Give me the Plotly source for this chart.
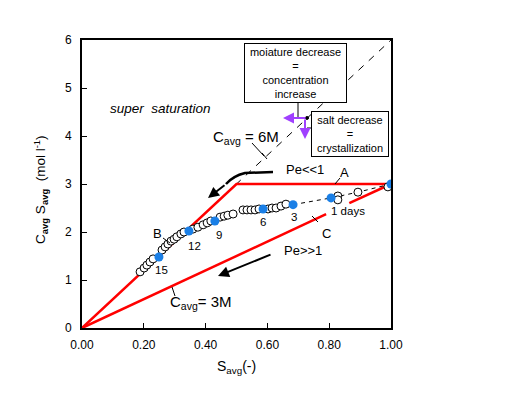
import plotly.graph_objects as go

# ---- data ----
S_open = [0.188, 0.201, 0.210, 0.220, 0.230, 0.259, 0.269, 0.278, 0.288, 0.298,
          0.307, 0.320, 0.330, 0.359, 0.375, 0.392, 0.405, 0.417, 0.447, 0.460,
          0.472, 0.489, 0.521, 0.534, 0.547, 0.560, 0.573, 0.602, 0.615, 0.628,
          0.644, 0.660, 0.828, 0.828, 0.893, 0.990]
C_open = [1.17, 1.25, 1.31, 1.375, 1.44, 1.625, 1.69, 1.75, 1.81, 1.85,
          1.90, 1.96, 2.00, 2.06, 2.10, 2.15, 2.19, 2.23, 2.31, 2.33,
          2.35, 2.375, 2.46, 2.46, 2.46, 2.46, 2.48, 2.48, 2.50, 2.50,
          2.54, 2.58, 2.75, 2.67, 2.83, 2.94]

S_blue = [1.0, 0.806, 0.683, 0.586, 0.430, 0.346, 0.249]
C_blue = [3.0, 2.71, 2.57, 2.48, 2.23, 2.02, 1.48]
day_labels = ["", "1 days", "3", "6", "9", "12", "15"]

S_trend = [1.0, 0.893, 0.806, 0.683, 0.586]
C_trend = [3.0, 2.83, 2.71, 2.57, 2.48]

S_6M = [0, 1.0]
C_6M = [0, 6.0]
S_A = [0, 0.5, 1.0]
C_A = [0, 3.0, 3.0]
S_C = [0, 0.79, None, 0.865, 1.0]
C_C = [0, 2.37, None, 2.60, 3.0]

x_ticks = [0, 0.2, 0.4, 0.6, 0.8, 1.0]
x_ticklabels = ["0.00", "0.20", "0.40", "0.60", "0.80", "1.00"]
y_ticks = [0, 1, 2, 3, 4, 5, 6]

FONT = "Liberation Sans, Arial, sans-serif"

def P(px, py):
    return (px - 82) / 309, (328 - py) / 48

fig = go.Figure()
fig.add_trace(go.Scatter(x=S_6M, y=C_6M, mode="lines",
                         line=dict(color="black", width=1, dash="7px,7px")))
fig.add_trace(go.Scatter(x=S_A, y=C_A, mode="lines",
                         line=dict(color="#ff0000", width=2.5)))
fig.add_trace(go.Scatter(x=S_C, y=C_C, mode="lines",
                         line=dict(color="#ff0000", width=2.5)))
fig.add_trace(go.Scatter(x=S_trend, y=C_trend, mode="lines",
                         line=dict(color="black", width=1, dash="4px,4px")))
fig.add_trace(go.Scatter(x=S_open, y=C_open, mode="markers",
                         marker=dict(size=8, color="white", line=dict(color="black", width=1))))
fig.add_trace(go.Scatter(x=S_blue, y=C_blue, mode="markers",
                         marker=dict(size=9, color="#1a7fe6", line=dict(width=0))))

ann = []
def text(px, py, t, size=12, **kw):
    x, y = P(px, py)
    d = dict(x=x, y=y, xref="x", yref="y", text=t, showarrow=False,
             font=dict(family=FONT, size=size, color="black"))
    d.update(kw)
    ann.append(d)

# day labels
lab_pos = [None, (348, 211), (294, 217), (263, 222), (219, 235), (194, 246), (161, 270)]
for lbl, pos in zip(day_labels, lab_pos):
    if pos:
        text(pos[0], pos[1], lbl, size=11.5)

text(160, 108, "<i>super  saturation</i>", size=13.5)
text(246, 137, "C<sub>avg</sub> = 6M", size=15)
text(201, 302, "C<sub>avg</sub>= 3M", size=15)
text(305, 169, "Pe<<1", size=13)
text(303, 250, "Pe>>1", size=13)
text(344, 172, "A", size=13)
text(157, 233, "B", size=13)
text(326, 233, "C", size=13)
text(427, 175, "start", size=14)
text(427, 193, "3M", size=14)

# boxes
x1, y1 = P(295.5, 73)
ann.append(dict(x=x1, y=y1, xref="x", yref="y", showarrow=False,
                text="moiature decrease<br>=<br>concentration<br>increase",
                font=dict(family=FONT, size=11, color="black"),
                bordercolor="black", borderwidth=1, bgcolor="white",
                width=99, height=56, borderpad=1))
x2, y2 = P(349.5, 133.5)
ann.append(dict(x=x2, y=y2, xref="x", yref="y", showarrow=False,
                text="salt decrease<br>=<br>crystallization",
                font=dict(family=FONT, size=11, color="black"),
                bordercolor="black", borderwidth=1, bgcolor="white",
                width=74, height=42, borderpad=1))

def arrow(p_from, p_to, color="black", width=1.5, head=2, size=1.0):
    xa, ya = P(*p_from)
    xh, yh = P(*p_to)
    ann.append(dict(x=xh, y=yh, ax=xa, ay=ya, xref="x", yref="y", axref="x", ayref="y",
                    text="", showarrow=True, arrowhead=head, arrowwidth=width,
                    arrowcolor=color, arrowsize=size))

arrow((272, 254), (218, 276), width=2, head=2, size=1.1)
arrow((226, 184), (208, 198), width=2, head=2, size=1.1)
arrow((410, 184), (394, 184), width=1, head=1, size=1.2)
arrow((307, 118), (283, 118), color="#a040ff", width=2, head=2, size=1.1)
arrow((305, 118), (305, 139), color="#a040ff", width=2, head=2, size=1.1)

shapes = []
def line(p, q, width=1, color="black"):
    a = P(*p); b = P(*q)
    shapes.append(dict(type="line", xref="x", yref="y", x0=a[0], y0=a[1], x1=b[0], y1=b[1],
                       line=dict(color=color, width=width)))

# curved arrow Pe<<1
a = P(273, 172); c = P(245, 173); b = P(226, 184)
shapes.append(dict(type="path", xref="x", yref="y",
                   path=f"M {a[0]},{a[1]} L {c[0]},{c[1]} Q {P(233,176)[0]},{P(233,176)[1]} {b[0]},{b[1]}",
                   line=dict(color="black", width=2.5)))
# leader lines
line((252, 143), (264, 156))
line((262, 153), (267, 159))
line((172, 287), (175, 296))
line((163, 238), (170, 243))
line((340, 178), (335, 184))
line((318, 222), (312, 216))
line((298, 103), (298, 117))
line((307, 128), (311, 128))
x_, y_ = P(307, 118)
shapes.append(dict(type="circle", xref="x", yref="y",
                   x0=x_ - 0.005, x1=x_ + 0.005, y0=y_ - 0.03, y1=y_ + 0.03,
                   fillcolor="black", line=dict(color="black", width=1)))

# y axis title
ann.append(dict(x=-0.172, y=0.479, xref="paper", yref="paper", showarrow=False, textangle=-90,
                text="C<sub><b>avg</b></sub> S<sub><b>avg</b></sub>  (mol l<sup>-1</sup>)",
                font=dict(family=FONT, size=13.5, color="black")))
ann.append(dict(x=0.5, y=-0.172, xref="paper", yref="paper", showarrow=False,
                text="S<sub>avg</sub>(-)", font=dict(family=FONT, size=14, color="black")))

# page body has an 8px default margin, so shift the figure accordingly
fig.update_layout(
    width=511, height=390,
    margin=dict(l=74, r=128, t=32, b=70),
    plot_bgcolor="white", paper_bgcolor="white",
    showlegend=False,
    annotations=ann, shapes=shapes,
    font=dict(family=FONT, size=11, color="black"),
)
fig.update_xaxes(range=[0, 1.0], tickvals=x_ticks, ticktext=x_ticklabels,
                 showgrid=False, zeroline=False, showline=True, mirror=True,
                 linecolor="black", linewidth=2, ticks="inside", ticklen=5,
                 tickcolor="black", tickfont=dict(family=FONT, size=12),
                 ticklabelstandoff=5)
fig.update_yaxes(range=[0, 6], tickvals=y_ticks,
                 showgrid=False, zeroline=False, showline=True, mirror=True,
                 linecolor="black", linewidth=2, ticks="inside", ticklen=5,
                 tickcolor="black", tickfont=dict(family=FONT, size=12),
                 ticklabelstandoff=6)

fig.write_html("out.html")
